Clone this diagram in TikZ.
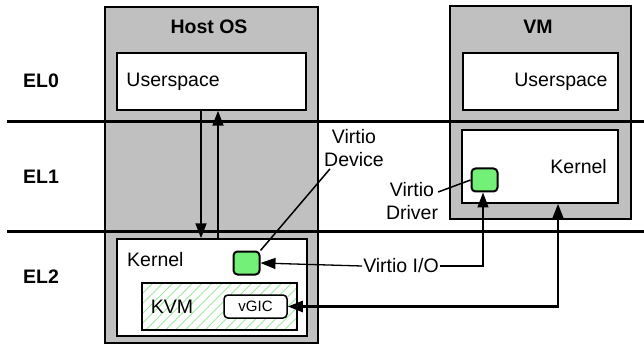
\documentclass[tikz,border=0pt]{standalone}
\usepackage{fontspec}
\setmainfont{Liberation Sans}
\usetikzlibrary{arrows.meta,patterns.meta,positioning}
\definecolor{osgray}{RGB}{192,192,192}
\definecolor{virtgreen}{RGB}{115,240,120}
\definecolor{hatchgreen}{RGB}{160,232,160}
\tikzset{
  txt/.style={inner sep=0pt, font=\fontsize{19.5}{23}\selectfont},
  bold/.style={inner sep=0pt, font=\fontsize{19.5}{23}\selectfont\bfseries},
  osbox/.style={draw, line width=1.5pt, fill=osgray, inner sep=0pt},
  whitebox/.style={draw, line width=1.5pt, fill=white, inner sep=0pt},
  virtbox/.style={draw, line width=2pt, fill=virtgreen, rounded corners=4pt,
    minimum width=26pt, minimum height=23pt, inner sep=0pt},
  tip/.tip={Triangle[length=15pt,width=11pt]},
  layer/.style={line width=3pt},
  link/.style={line width=1.8pt, -tip},
  iolink/.style={line width=1.3pt, -tip}
}
\begin{document}
\begin{tikzpicture}[x=1pt,y=-1pt]
  \useasboundingbox (0,0) rectangle (644,347);
  % gray OS boxes
  \node[osbox, minimum width=213pt, minimum height=336pt] (hostos) at (211.5,175) {};
  \node[osbox, minimum width=181pt, minimum height=213pt] (vm) at (540.5,112.5) {};
  \node[bold] (hostlbl) at (209,27) {Host OS};
  \node[bold] (vmlbl) at (538,27) {VM};
  % exception levels
  \draw[layer] (7,122) -- (644,122);
  \draw[layer] (7,231) -- (644,231);
  \node[bold, anchor=west] (el0) at (23,81) {EL0};
  \node[bold, anchor=west] (el1) at (23,177) {EL1};
  \node[bold, anchor=west] (el2) at (23,277) {EL2};
  % host side
  \node[whitebox, minimum width=189pt, minimum height=57pt] (hostuser) at (211.5,81.5) {};
  \node[txt, anchor=west] at ([xshift=10pt]hostuser.west) {Userspace};
  \node[whitebox, minimum width=190pt, minimum height=97pt] (hostkernel) at (212,287.5) {};
  \node[txt, anchor=west] at (127,260) {Kernel};
  \node[draw, line width=1.5pt, inner sep=0pt, minimum width=155pt, minimum height=47pt,
    pattern={Lines[angle=45,distance=7pt,line width=0.9pt]}, pattern color=hatchgreen] (kvm) at (219.5,306.5) {};
  \node[txt, anchor=west] at ([xshift=9pt]kvm.west) {KVM};
  \node[whitebox, rounded corners=4pt, minimum width=63pt, minimum height=23pt,
    font=\fontsize{15}{18}\selectfont] (vgic) at (255.5,306.5) {vGIC};
  \node[virtbox] (hostdev) at (246.5,263) {};
  % vm side
  \node[whitebox, minimum width=155pt, minimum height=57pt] (vmuser) at (540.5,81.5) {};
  \node[txt, anchor=east] at ([xshift=-11pt]vmuser.east) {Userspace};
  \node[whitebox, minimum width=156pt, minimum height=73pt] (vmkernel) at (540,166.5) {};
  \node[txt, anchor=east] at (607,167) {Kernel};
  \node[virtbox] (vmdrv) at (484.5,180) {};
  % labels
  \node[txt, align=center] (devlabel) at (354,148) {Virtio\\Device};
  \node[txt, align=center] (drvlabel) at (412,201) {Virtio\\Driver};
  \node[txt, inner sep=1pt] (iolabel) at (401,266) {Virtio I/O};
  % connectors
  \draw[line width=1.5pt] (hostdev.north east) -- ([xshift=6pt,yshift=-2pt]devlabel.south west);
  \draw[line width=1.5pt] ([yshift=9pt]drvlabel.east) -- (vmdrv.west);
  \draw[link] ([xshift=-10.5pt]hostuser.south) -- ([xshift=-11pt]hostkernel.north);
  \draw[link] ([xshift=6pt]hostkernel.north) -- ([xshift=6.5pt]hostuser.south);
  \draw[iolink] (iolabel.west) -- (hostdev.east);
  \draw[iolink] (iolabel.east) -| ([xshift=-1.5pt]vmdrv.south);
  \draw[line width=2.5pt, tip-tip] (vgic.east) -| ([xshift=18pt]vmkernel.south);
\end{tikzpicture}
\end{document}
